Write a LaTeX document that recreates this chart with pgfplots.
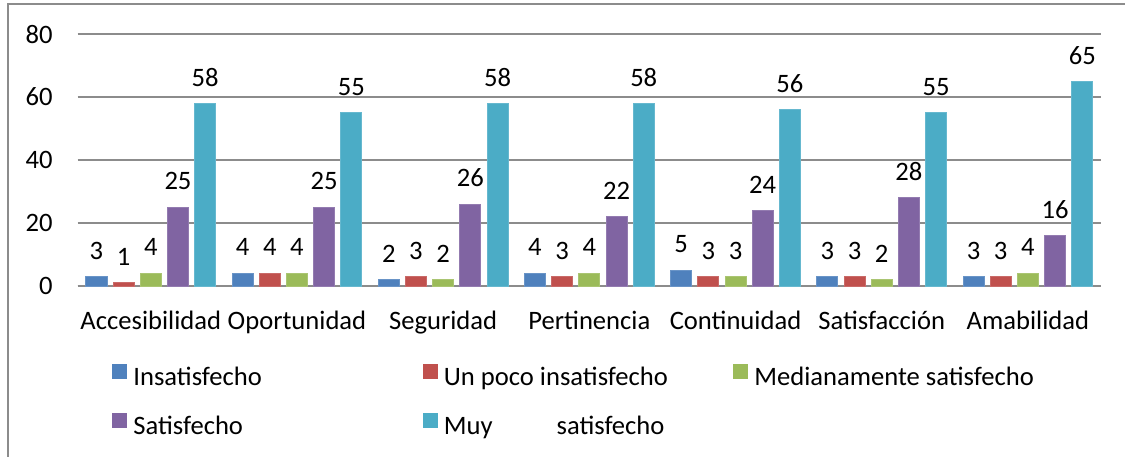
\documentclass[border=0pt]{standalone}
\usepackage{pgfplots}
\pgfplotsset{compat=1.18}
\usepackage{fontspec}
\setmainfont{Carlito}
\definecolor{cInsat}{HTML}{4F81BD}
\definecolor{cPoco}{HTML}{C0504D}
\definecolor{cMed}{HTML}{9BBB59}
\definecolor{cSat}{HTML}{8064A2}
\definecolor{cMuy}{HTML}{4BACC6}
\definecolor{gridgray}{HTML}{8C8C8C}
\begin{document}
\begin{tikzpicture}
\useasboundingbox (0,0) rectangle (562.5pt,228pt);
\clip (0,0) rectangle (562.5pt,228pt);
\fill[white] (0,0) rectangle (562.5pt,228pt);
\draw[gridgray, line width=1pt] (4pt,-20pt) rectangle (600pt,226pt);
\begin{axis}[
  at={(38.85pt,85pt)}, anchor=south west,
  scale only axis, width=511.65pt, height=126pt,
  xmin=-0.5, xmax=6.5, ymin=0, ymax=80,
  ytick={0,20,40,60,80},
  xtick={0,1,2,3,4,5,6},
  xticklabels={Accesibilidad,Oportunidad,Seguridad,Pertinencia,Continuidad,Satisfacción,Amabilidad},
  axis x line*=bottom,
  axis y line*=left,
  x axis line style={gridgray, line width=1pt},
  y axis line style={draw=none},
  major tick length=0pt,
  ymajorgrids, grid style={gridgray, line width=1pt},
  ybar,
  bar width=0.144,
  /pgf/number format/assume math mode=true,
  font=\fontsize{13.3pt}{16pt}\selectfont,
  ticklabel style={font=\fontsize{13.3pt}{16pt}\selectfont},
  yticklabel style={xshift=-9pt},
  xticklabel style={yshift=-9pt},
  nodes near coords,
  every node near coord/.append style={anchor=center, yshift=13pt, font=\fontsize{13.3pt}{16pt}\selectfont, text=black},
  legend image code/.code={\fill[#1,draw=none] (0pt,0pt) rectangle (7.5pt,7.5pt);},
  legend columns=3,
  legend style={at={(0.0335,-0.3095)}, anchor=north west, draw=none, fill=none, inner sep=0pt,
    font=\fontsize{13.3pt}{16pt}\selectfont, row sep=10.5pt,
    nodes={inner xsep=0pt, inner ysep=0pt, text height=9.5pt, text depth=3pt},
    /tikz/every odd column/.append style={column sep=3pt}},
  legend cell align=left,
]
\addplot[fill=cInsat, draw=cInsat!85!white, bar shift=-0.372] coordinates {(0,3) (1,4) (2,2) (3,4) (4,5) (5,3) (6,3)};
\addlegendentry{\makebox[144.75pt][l]{Insatisfecho}}
\addplot[fill=cPoco, draw=cPoco!85!white, bar shift=-0.186] coordinates {(0,1) (1,4) (2,3) (3,3) (4,3) (5,3) (6,3)};
\addlegendentry{\makebox[144.75pt][l]{Un poco insatisfecho}}
\addplot[fill=cMed, draw=cMed!85!white, bar shift=0] coordinates {(0,4) (1,4) (2,2) (3,4) (4,3) (5,2) (6,4)};
\addlegendentry{\makebox[144.75pt][l]{Medianamente satisfecho}}
\addplot[fill=cSat, draw=cSat!85!white, bar shift=0.186] coordinates {(0,25) (1,25) (2,26) (3,22) (4,24) (5,28) (6,16)};
\addlegendentry{\makebox[144.75pt][l]{Satisfecho}}
\addplot[fill=cMuy, draw=cMuy!85!white, bar shift=0.372] coordinates {(0,58) (1,55) (2,58) (3,58) (4,56) (5,55) (6,65)};
\addlegendentry{\makebox[144.75pt][l]{Muy\hspace{32pt}satisfecho}}
\end{axis}
\end{tikzpicture}
\end{document}
